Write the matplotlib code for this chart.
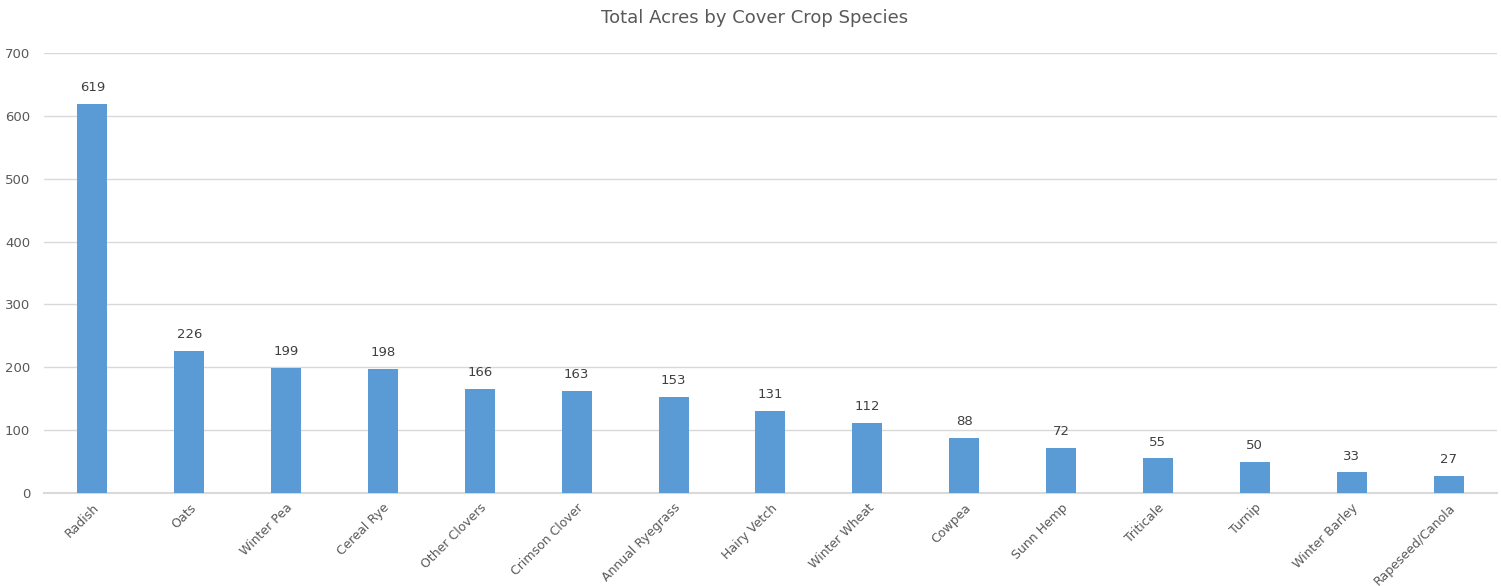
import matplotlib.pyplot as plt

species = ['Radish', 'Oats', 'Winter Pea', 'Cereal Rye', 'Other Clovers',
           'Crimson Clover', 'Annual Ryegrass', 'Hairy Vetch', 'Winter Wheat',
           'Cowpea', 'Sunn Hemp', 'Triticale', 'Turnip', 'Winter Barley',
           'Rapeseed/Canola']
acres = [619, 226, 199, 198, 166, 163, 153, 131, 112, 88, 72, 55, 50, 33, 27]
y_ticks = [0, 100, 200, 300, 400, 500, 600, 700]


def main():
    fig = plt.figure(figsize=(15.01, 5.86), dpi=100)
    ax = fig.add_axes([0.0293, 0.1587, 0.968, 0.7509])
    text_color = '#595959'

    x = range(len(species))
    bars = ax.bar(x, acres, width=0.31, color='#5B9BD5', zorder=3)
    for b, v in zip(bars, acres):
        ax.annotate(str(v), (b.get_x() + b.get_width() / 2, v),
                    xytext=(0, 7), textcoords='offset points',
                    ha='center', va='bottom', fontsize=9.5, color='#404040')

    ax.set_xlim(-0.5, len(species) - 0.5)
    ax.set_ylim(0, 700)
    ax.set_yticks(y_ticks)
    ax.yaxis.grid(True, color='#d9d9d9', linewidth=1, zorder=0)
    ax.set_xticks(list(x))
    ax.set_xticklabels(species, rotation=45, ha='right',
                       rotation_mode='anchor', fontsize=9, color=text_color)
    ax.tick_params(axis='y', labelsize=9.5, labelcolor=text_color, length=0, pad=10)
    ax.tick_params(axis='x', length=0, pad=6)
    for s in ['top', 'right', 'left']:
        ax.spines[s].set_visible(False)
    ax.spines['bottom'].set_color('#d9d9d9')
    ax.spines['bottom'].set_linewidth(1.5)

    fig.suptitle('Total Acres by Cover Crop Species', x=0.503, y=0.985,
                 va='top', fontsize=13, color=text_color)
    fig.savefig('out.png', dpi=100)


if __name__ == "__main__":
    main()
